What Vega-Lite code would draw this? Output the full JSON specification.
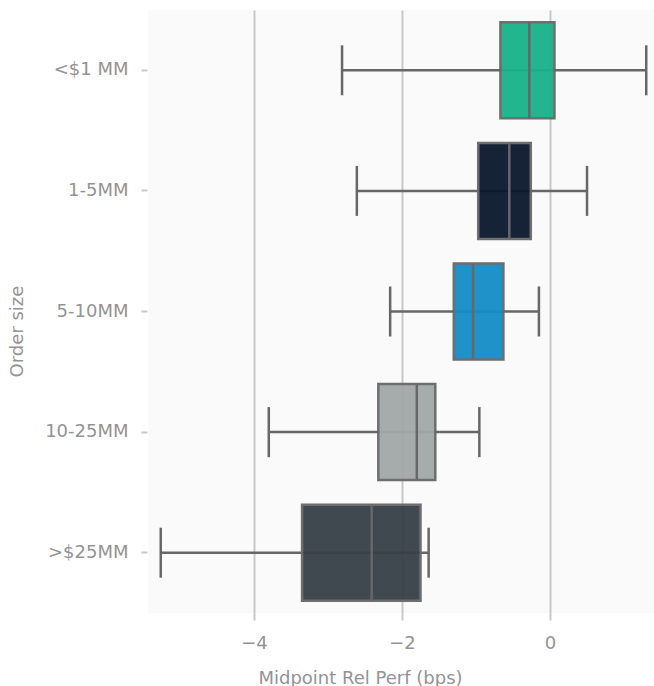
{
  "$schema": "https://vega.github.io/schema/vega-lite/v6.json",
  "autosize": "none",
  "width": 506,
  "height": 603,
  "padding": {"left": 148, "top": 10, "right": 0, "bottom": 73},
  "background": "#ffffff",
  "config": {
    "view": {"fill": "#fafafa", "stroke": null},
    "font": "DejaVu Sans",
    "axis": {
      "labelFont": "DejaVu Sans",
      "labelFontWeight": "normal",
      "labelColor": "#939393",
      "labelFontSize": 18,
      "titleFont": "DejaVu Sans",
      "titleFontWeight": "normal",
      "titleColor": "#939393",
      "titleFontSize": 18,
      "domain": false,
      "tickColor": "#c8c8c8",
      "tickWidth": 2,
      "gridColor": "#c8c8c8",
      "gridWidth": 2
    }
  },
  "data": {
    "values": [
      {"size": "<$1 MM", "lower": -2.81, "q1": -0.67, "median": -0.28, "q3": 0.06, "upper": 1.30},
      {"size": "1-5MM", "lower": -2.61, "q1": -0.97, "median": -0.55, "q3": -0.26, "upper": 0.50},
      {"size": "5-10MM", "lower": -2.16, "q1": -1.30, "median": -1.04, "q3": -0.63, "upper": -0.15},
      {"size": "10-25MM", "lower": -3.80, "q1": -2.32, "median": -1.80, "q3": -1.55, "upper": -0.955},
      {"size": ">$25MM", "lower": -5.26, "q1": -3.35, "median": -2.41, "q3": -1.75, "upper": -1.64}
    ]
  },
  "encoding": {
    "y": {
      "field": "size",
      "type": "nominal",
      "sort": null,
      "scale": {"paddingInner": 0, "paddingOuter": 0},
      "axis": {
        "title": "Order size",
        "grid": false,
        "tickSize": 6,
        "offset": 1,
        "labelPadding": 13,
        "titleAngle": -90,
        "titleX": -130,
        "titleY": 321,
        "titleAlign": "center",
        "titleBaseline": "middle"
      }
    }
  },
  "layer": [
    {
      "mark": {"type": "rule", "color": "#676767", "strokeWidth": 2.5},
      "encoding": {
        "x": {
          "field": "lower",
          "type": "quantitative",
          "scale": {"domain": [-5.432, 1.405], "nice": false, "zero": false},
          "axis": {
            "title": "Midpoint Rel Perf (bps)",
            "values": [-4, -2, 0],
            "format": "d",
            "grid": true,
            "tickSize": 7,
            "labelPadding": 14,
            "titleX": 212,
            "titleY": 70,
            "titleBaseline": "alphabetic"
          }
        },
        "x2": {"field": "upper"}
      }
    },
    {
      "mark": {"type": "tick", "orient": "vertical", "color": "#676767", "thickness": 2.5, "size": 50, "opacity": 1},
      "encoding": {"x": {"field": "lower", "type": "quantitative"}}
    },
    {
      "mark": {"type": "tick", "orient": "vertical", "color": "#676767", "thickness": 2.5, "size": 50, "opacity": 1},
      "encoding": {"x": {"field": "upper", "type": "quantitative"}}
    },
    {
      "mark": {"type": "bar", "size": 96, "stroke": "#676767", "strokeWidth": 2.5, "opacity": 0.95},
      "encoding": {
        "x": {"field": "q1", "type": "quantitative"},
        "x2": {"field": "q3"},
        "color": {
          "field": "size",
          "type": "nominal",
          "legend": null,
          "scale": {
            "domain": ["<$1 MM", "1-5MM", "5-10MM", "10-25MM", ">$25MM"],
            "range": ["#17b289", "#0a172c", "#138dc7", "#a2a8a8", "#374046"]
          }
        }
      }
    },
    {
      "mark": {"type": "tick", "orient": "vertical", "color": "#676767", "thickness": 2.5, "size": 96, "opacity": 1},
      "encoding": {"x": {"field": "median", "type": "quantitative"}}
    }
  ]
}
